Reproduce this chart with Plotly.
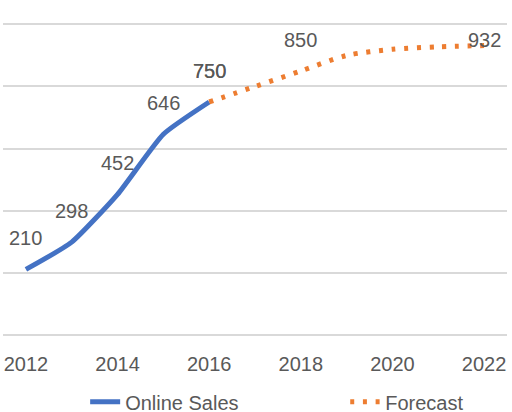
import plotly.graph_objects as go

years_sales = [2012, 2013, 2014, 2015, 2016]
online_sales = [210, 298, 452, 646, 750]
years_forecast = [2016, 2017, 2018, 2019, 2020, 2021, 2022]
forecast = [750, 800, 850, 900, 920, 928, 932]
forecast_labeled_years = [2016, 2018, 2022]
tick_years = [2012, 2014, 2016, 2018, 2020, 2022]
grid_values = [0, 200, 400, 600, 800, 1000]

BLUE = "#4472C4"
ORANGE = "#ED7D31"
TXT = "#595959"
GRID = "#D9D9D9"
FONT = "Liberation Sans, Arial, sans-serif"

fig = go.Figure()
fig.add_trace(go.Scatter(x=years_sales, y=online_sales, mode="lines", name="Online Sales",
                         legend="legend",
                         line=dict(color=BLUE, width=5, shape="spline", smoothing=0.5)))
fig.add_trace(go.Scatter(x=years_forecast, y=forecast, mode="lines", name="Forecast",
                         legend="legend2",
                         line=dict(color=ORANGE, width=5, shape="spline", smoothing=0.8, dash="4px,8.7px")))

LABEL_OFFSET = 100  # label centre above point, in data units
LABEL_CAP = 950

def add_label(x, v):
    fig.add_annotation(x=x, y=min(v + LABEL_OFFSET, LABEL_CAP), text=str(v), showarrow=False,
                       xanchor="center", yanchor="middle",
                       font=dict(family=FONT, size=20, color=TXT))

for x, v in zip(years_sales, online_sales):
    add_label(x, v)
for x, v in zip(years_forecast, forecast):
    if x in forecast_labeled_years:
        add_label(x, v)

legend_common = dict(orientation="h", xanchor="left", yref="container", y=0.025, yanchor="middle",
                     font=dict(family=FONT, size=20, color=TXT), bgcolor="rgba(0,0,0,0)")

fig.update_layout(
    width=512, height=412,
    margin=dict(l=3, r=5, t=22, b=75, autoexpand=False),
    plot_bgcolor="white", paper_bgcolor="white",
    font=dict(family=FONT, size=20, color=TXT),
    showlegend=True,
    legend=dict(x=0.163, **legend_common),
    legend2=dict(x=0.679, **legend_common),
)
fig.update_xaxes(range=[2011.5, 2022.5], tickvals=tick_years, ticktext=[str(t) for t in tick_years],
                 showgrid=False, zeroline=False, showline=False, ticks="",
                 ticklabelstandoff=13, tickfont=dict(family=FONT, size=20, color=TXT))
fig.update_yaxes(range=[-8, 1008], tickvals=grid_values, showgrid=True,
                 gridcolor=GRID, gridwidth=1.5,
                 showticklabels=False, zeroline=False, showline=False, ticks="")

fig.write_html("out.html")
